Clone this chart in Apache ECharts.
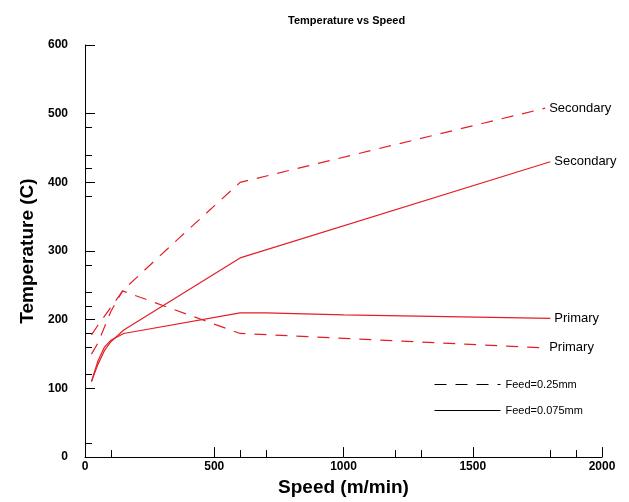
<!DOCTYPE html>
<html>
<head>
<meta charset="utf-8">
<title>Temperature vs Speed</title>
<script src="https://cdn.jsdelivr.net/npm/echarts@6/dist/echarts.min.js"></script>
<style>
  html, body { margin: 0; padding: 0; background: #fff; }
  #chart { width: 629px; height: 502px; }
</style>
</head>
<body>
<div id="chart"></div>
<script>
// speed (m/min), temperature (C)
var secondary025 = [[25, 178], [50, 192], [100, 218], [150, 244], [370, 321], [600, 400], [1780, 508]];
var primary025 = [[25, 150], [50, 166], [100, 212], [145, 242], [600, 180], [1780, 159]];
var secondary0075 = [[25, 110], [50, 135], [75, 155], [100, 168], [150, 185], [600, 290], [1800, 430]];
var primary0075 = [[25, 110], [50, 140], [75, 160], [100, 170], [150, 180], [600, 210], [700, 210], [1000, 207], [1800, 202]];

var xMinorTicks = [100, 600, 700, 1200, 1300, 1800, 1900];
var yMinorTicks = [20, 120, 160, 180, 220, 240, 280, 380, 420, 440, 480];

var red = '#e41e26';
var font = 'Liberation Sans, Arial, sans-serif';

window.onload = function () {
    var myChart = echarts.init(document.getElementById('chart'));

    function curve(name, data, dashed, label) {
        return {
            name: name,
            type: 'line',
            data: data,
            symbol: 'none',
            xAxisIndex: 0,
            yAxisIndex: 0,
            lineStyle: { color: red, width: 1.2, type: dashed ? [12, 9] : 'solid' },
            endLabel: {
                show: true,
                formatter: label,
                color: '#000',
                fontFamily: font,
                fontSize: 13,
                distance: 4
            },
            silent: true,
            animation: false
        };
    }

    var option = {
        backgroundColor: '#fff',
        animation: false,
        title: {
            text: 'Temperature vs Speed',
            left: 283,
            top: 10,
            textStyle: { fontFamily: font, fontSize: 11, fontWeight: 'bold', color: '#000' }
        },
        legend: {
            data: ['Feed=0.25mm', 'Feed=0.075mm'],
            orient: 'vertical',
            left: 429,
            top: 374,
            itemWidth: 66,
            itemHeight: 12,
            itemGap: 15,
            itemStyle: { opacity: 0 },
            lineStyle: { width: 1 },
            textStyle: { fontFamily: font, fontSize: 11, color: '#000' },
            selectedMode: false
        },
        grid: { left: 85, right: 27, top: 45, bottom: 42 },
        xAxis: [{
            type: 'value',
            min: 0,
            max: 2000,
            interval: 500,
            name: 'Speed (m/min)',
            nameLocation: 'middle',
            nameGap: 20,
            nameTextStyle: { fontFamily: font, fontSize: 19, fontWeight: 'bold', color: '#000' },
            axisLine: { lineStyle: { color: '#000', width: 1 } },
            axisTick: { inside: true, length: 10, lineStyle: { color: '#000' } },
            axisLabel: {
                fontFamily: font, fontSize: 12, fontWeight: 'bold', color: '#000', margin: 4,
                formatter: function (v) { return String(v); }
            },
            splitLine: { show: false }
        }, {
            type: 'value',
            position: 'bottom',
            min: 0,
            max: 2000,
            axisLine: { show: false },
            axisTick: { inside: true, length: 7, customValues: xMinorTicks, lineStyle: { color: '#000' } },
            axisLabel: { show: false },
            splitLine: { show: false }
        }],
        yAxis: [{
            type: 'value',
            min: 0,
            max: 600,
            interval: 100,
            name: 'Temperature (C)',
            nameLocation: 'middle',
            nameGap: 47,
            nameTextStyle: { fontFamily: font, fontSize: 19, fontWeight: 'bold', color: '#000' },
            axisLine: { show: true, lineStyle: { color: '#000', width: 1 } },
            axisTick: { show: true, inside: true, length: 10, lineStyle: { color: '#000' } },
            axisLabel: {
                fontFamily: font, fontSize: 12, fontWeight: 'bold', color: '#000', margin: 17,
                formatter: function (v) { return String(v); }
            },
            splitLine: { show: false }
        }, {
            type: 'value',
            position: 'left',
            offset: 0,
            min: 0,
            max: 600,
            axisLine: { show: false },
            axisTick: { show: true, inside: true, length: 7, customValues: yMinorTicks, lineStyle: { color: '#000' } },
            axisLabel: { show: false },
            splitLine: { show: false }
        }],
        series: [
            curve('0.25 Secondary', secondary025, true, 'Secondary'),
            curve('0.25 Primary', primary025, true, 'Primary'),
            curve('0.075 Secondary', secondary0075, false, 'Secondary'),
            curve('0.075 Primary', primary0075, false, 'Primary'),
            {
                name: 'Feed=0.25mm',
                type: 'line',
                data: [],
                symbol: 'none',
                lineStyle: { color: '#000', width: 1, type: [12, 9] },
                itemStyle: { color: '#000' }
            },
            {
                name: 'Feed=0.075mm',
                type: 'line',
                data: [],
                symbol: 'none',
                lineStyle: { color: '#000', width: 1, type: 'solid' },
                itemStyle: { color: '#000' }
            }
        ]
    };
    myChart.setOption(option);
    window.addEventListener('resize', function () {
        myChart.resize();
    });
};
</script>
</body>
</html>
